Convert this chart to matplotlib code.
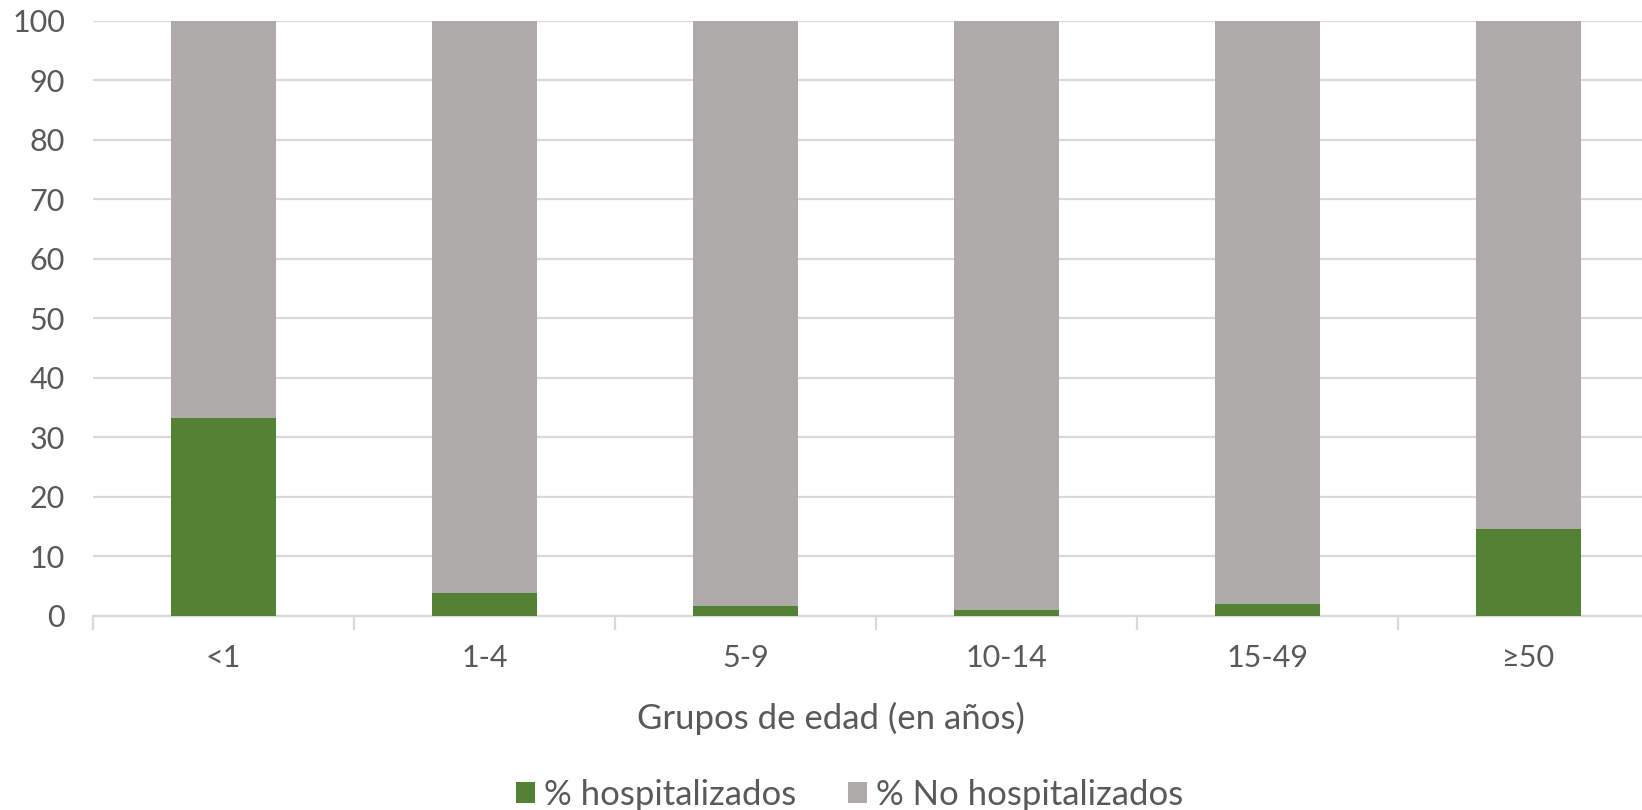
import matplotlib
matplotlib.use("Agg")
import matplotlib.pyplot as plt
from matplotlib.patches import Patch
import numpy as np

categories = ["<1", "1-4", "5-9", "10-14", "15-49", "≥50"]
hospitalizados = [33.3, 3.9, 1.6, 0.9, 1.9, 14.6]
no_hospitalizados = [100 - v for v in hospitalizados]
yticks = list(range(0, 101, 10))

green = "#548235"
gray = "#AFABAB"
text_color = "#595959"
grid_color = "#D9D9D9"

plt.rcParams["font.family"] = ["Lato", "DejaVu Sans"]

fig = plt.figure(figsize=(16.42, 8.10), dpi=100)
# plot area runs slightly past the right edge of the canvas
ax = fig.add_axes([0.0565, 0.2398, 0.954, 0.7345])

x = np.arange(len(categories))
ax.bar(x, hospitalizados, width=0.40, color=green, zorder=3)
ax.bar(x, no_hospitalizados, width=0.40, bottom=hospitalizados, color=gray, zorder=3)

ax.set_xlim(-0.5, len(categories) - 0.5)
ax.set_ylim(0, 100)
ax.set_yticks(yticks)
ax.yaxis.grid(True, color=grid_color, linewidth=1.6, zorder=0)
ax.tick_params(axis="y", length=0, labelsize=22, labelcolor=text_color, pad=20)

for s in ["top", "right", "left"]:
    ax.spines[s].set_visible(False)
ax.spines["bottom"].set_color(grid_color)
ax.spines["bottom"].set_linewidth(1.6)

# category labels centred under bars, tick marks on boundaries
ax.set_xticks(x)
ax.set_xticklabels(categories)
ax.tick_params(axis="x", which="major", length=0, labelsize=22, labelcolor=text_color, pad=20.5)
ax.set_xticks(np.arange(-0.5, len(categories), 1.0), minor=True)
ax.tick_params(axis="x", which="minor", length=10, width=1.6, color=grid_color)

ax.set_xlabel("Grupos de edad (en años)", fontsize=25, color=text_color)
ax.xaxis.set_label_coords(0.471, -0.173)
ax.xaxis.label.set_va("center")

handles = [Patch(facecolor=green, label="% hospitalizados"),
           Patch(facecolor=gray, label="% No hospitalizados")]
fig.legend(handles=handles, loc="center", bbox_to_anchor=(0.5175, 0.019), ncol=2,
           frameon=False, fontsize=25, labelcolor=text_color, handlelength=0.55,
           handleheight=0.55, handletextpad=0.26, columnspacing=1.5,
           borderpad=0.2)

fig.savefig("out.png", dpi=100)
